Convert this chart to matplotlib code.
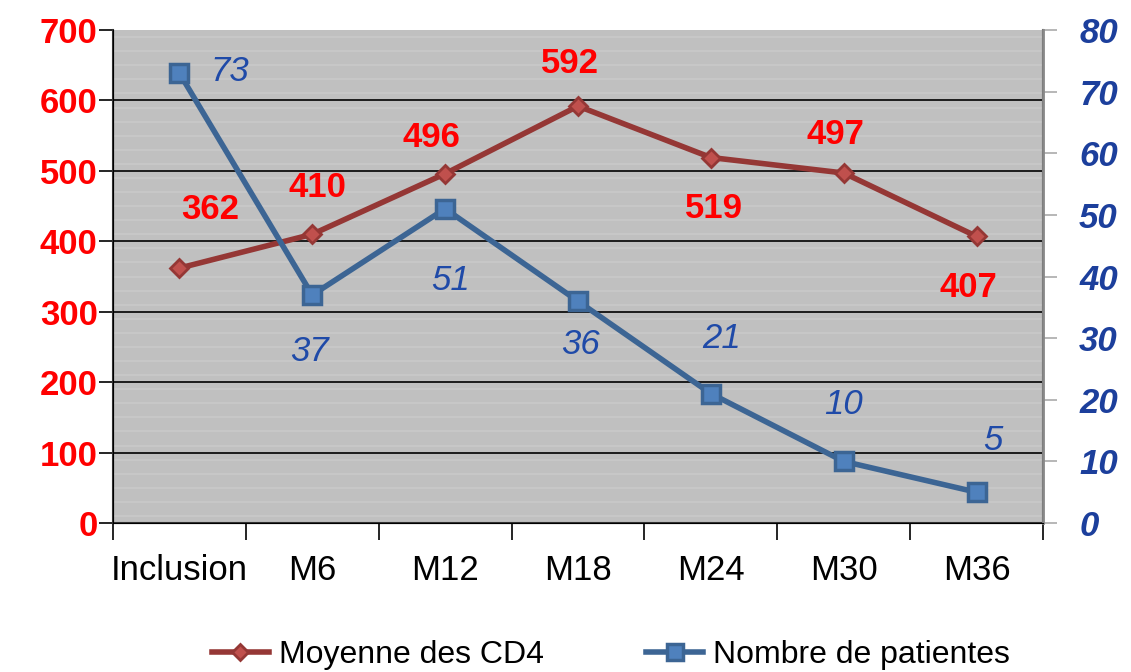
import matplotlib.pyplot as plt
import numpy as np

plt.rcParams['font.family'] = ['Liberation Sans', 'DejaVu Sans']

categories = ['Inclusion', 'M6', 'M12', 'M18', 'M24', 'M30', 'M36']
cd4_mean = [362, 410, 496, 592, 519, 497, 407]
nb_patients = [73, 37, 51, 36, 21, 10, 5]
# label offsets in points (dx, dy)
cd4_offsets = [(22, 42), (4, 34), (-10, 26), (-6, 31), (2, -37), (-6, 28), (-6, -37)]
pat_offsets = [(36, 1), (-2, -41), (4, -52), (2, -31), (8, 40), (0, 41), (12, 37)]

red = '#ff0000'
blue = '#1c3f9c'
lab_blue = '#1f4aa8'

fig = plt.figure(figsize=(11.31, 6.72), dpi=100)
ax = fig.add_axes([0.0999, 0.2217, 0.8223, 0.7336])
ax.set_facecolor('#c0c0c0')
x = np.arange(len(categories))

# faint horizontal stripes of the background
for yv in np.arange(10, 700, 20):
    ax.axhline(yv, color='#c9c9c9', lw=1.2, zorder=0)
for yv in np.arange(100, 700, 100):
    ax.axhline(yv, color='black', lw=1.2, zorder=1)

ax.set_xlim(-0.5, len(categories) - 0.5)
ax.set_ylim(0, 700)
ax.set_yticks(np.arange(0, 701, 100))
ax.set_yticklabels([str(v) for v in range(0, 701, 100)], color=red,
                   fontsize=25, fontweight='bold')
ax.set_xticks(np.arange(-0.5, len(categories), 1))
ax.set_xticklabels([])
ax.set_xticks(x, minor=True)
ax.set_xticklabels(categories, minor=True, fontsize=25)
ax.tick_params(axis='x', which='minor', length=0, pad=22)
ax.tick_params(axis='x', which='major', length=12, width=1.2)
ax.tick_params(axis='y', length=10, width=1.2, pad=1)
ax.spines['top'].set_visible(False)
for s in ['left', 'bottom', 'right']:
    ax.spines[s].set_color('#333333')
    ax.spines[s].set_linewidth(1.5)

l1, = ax.plot(x, cd4_mean, color='#953735', lw=4, marker='D', ms=9,
              mfc='#c0504d', mec='#953735', mew=2, zorder=4,
              label='Moyenne des CD4')
for xi, v, (dx, dy) in zip(x, cd4_mean, cd4_offsets):
    ax.annotate(str(v), (xi, v), xytext=(dx, dy), textcoords='offset points',
                ha='center', va='center', color=red, fontsize=25,
                fontweight='bold', zorder=6)

ax2 = ax.twinx()
ax2.set_ylim(0, 80)
ax2.set_yticks(np.arange(0, 81, 10))
ax2.set_yticklabels([str(v) for v in range(0, 81, 10)], color=blue,
                    fontsize=25, fontweight='bold', fontstyle='italic')
ax2.tick_params(axis='y', length=10, width=1.2, pad=16, color='#aaaaaa')
ax2.spines['top'].set_visible(False)
ax2.spines['right'].set_color('#888888')
ax2.spines['right'].set_linewidth(2)

l2, = ax2.plot(x, nb_patients, color='#3c6594', lw=4, marker='s', ms=13,
               mfc='#4f81bd', mec='#3c6594', mew=2.5, zorder=5,
               label='Nombre de patientes')
for xi, v, (dx, dy) in zip(x, nb_patients, pat_offsets):
    ax2.annotate(str(v), (xi, v), xytext=(dx, dy), textcoords='offset points',
                 ha='center', va='center', color=lab_blue, fontsize=25,
                 fontstyle='italic', zorder=6)

fig.legend(handles=[l1, l2], loc='center', bbox_to_anchor=(0.54, 0.025),
           ncol=2, frameon=False, fontsize=23, handlelength=1.8,
           columnspacing=3.2, handletextpad=0.3, markerscale=0.85)

fig.savefig('out.png', dpi=100)
